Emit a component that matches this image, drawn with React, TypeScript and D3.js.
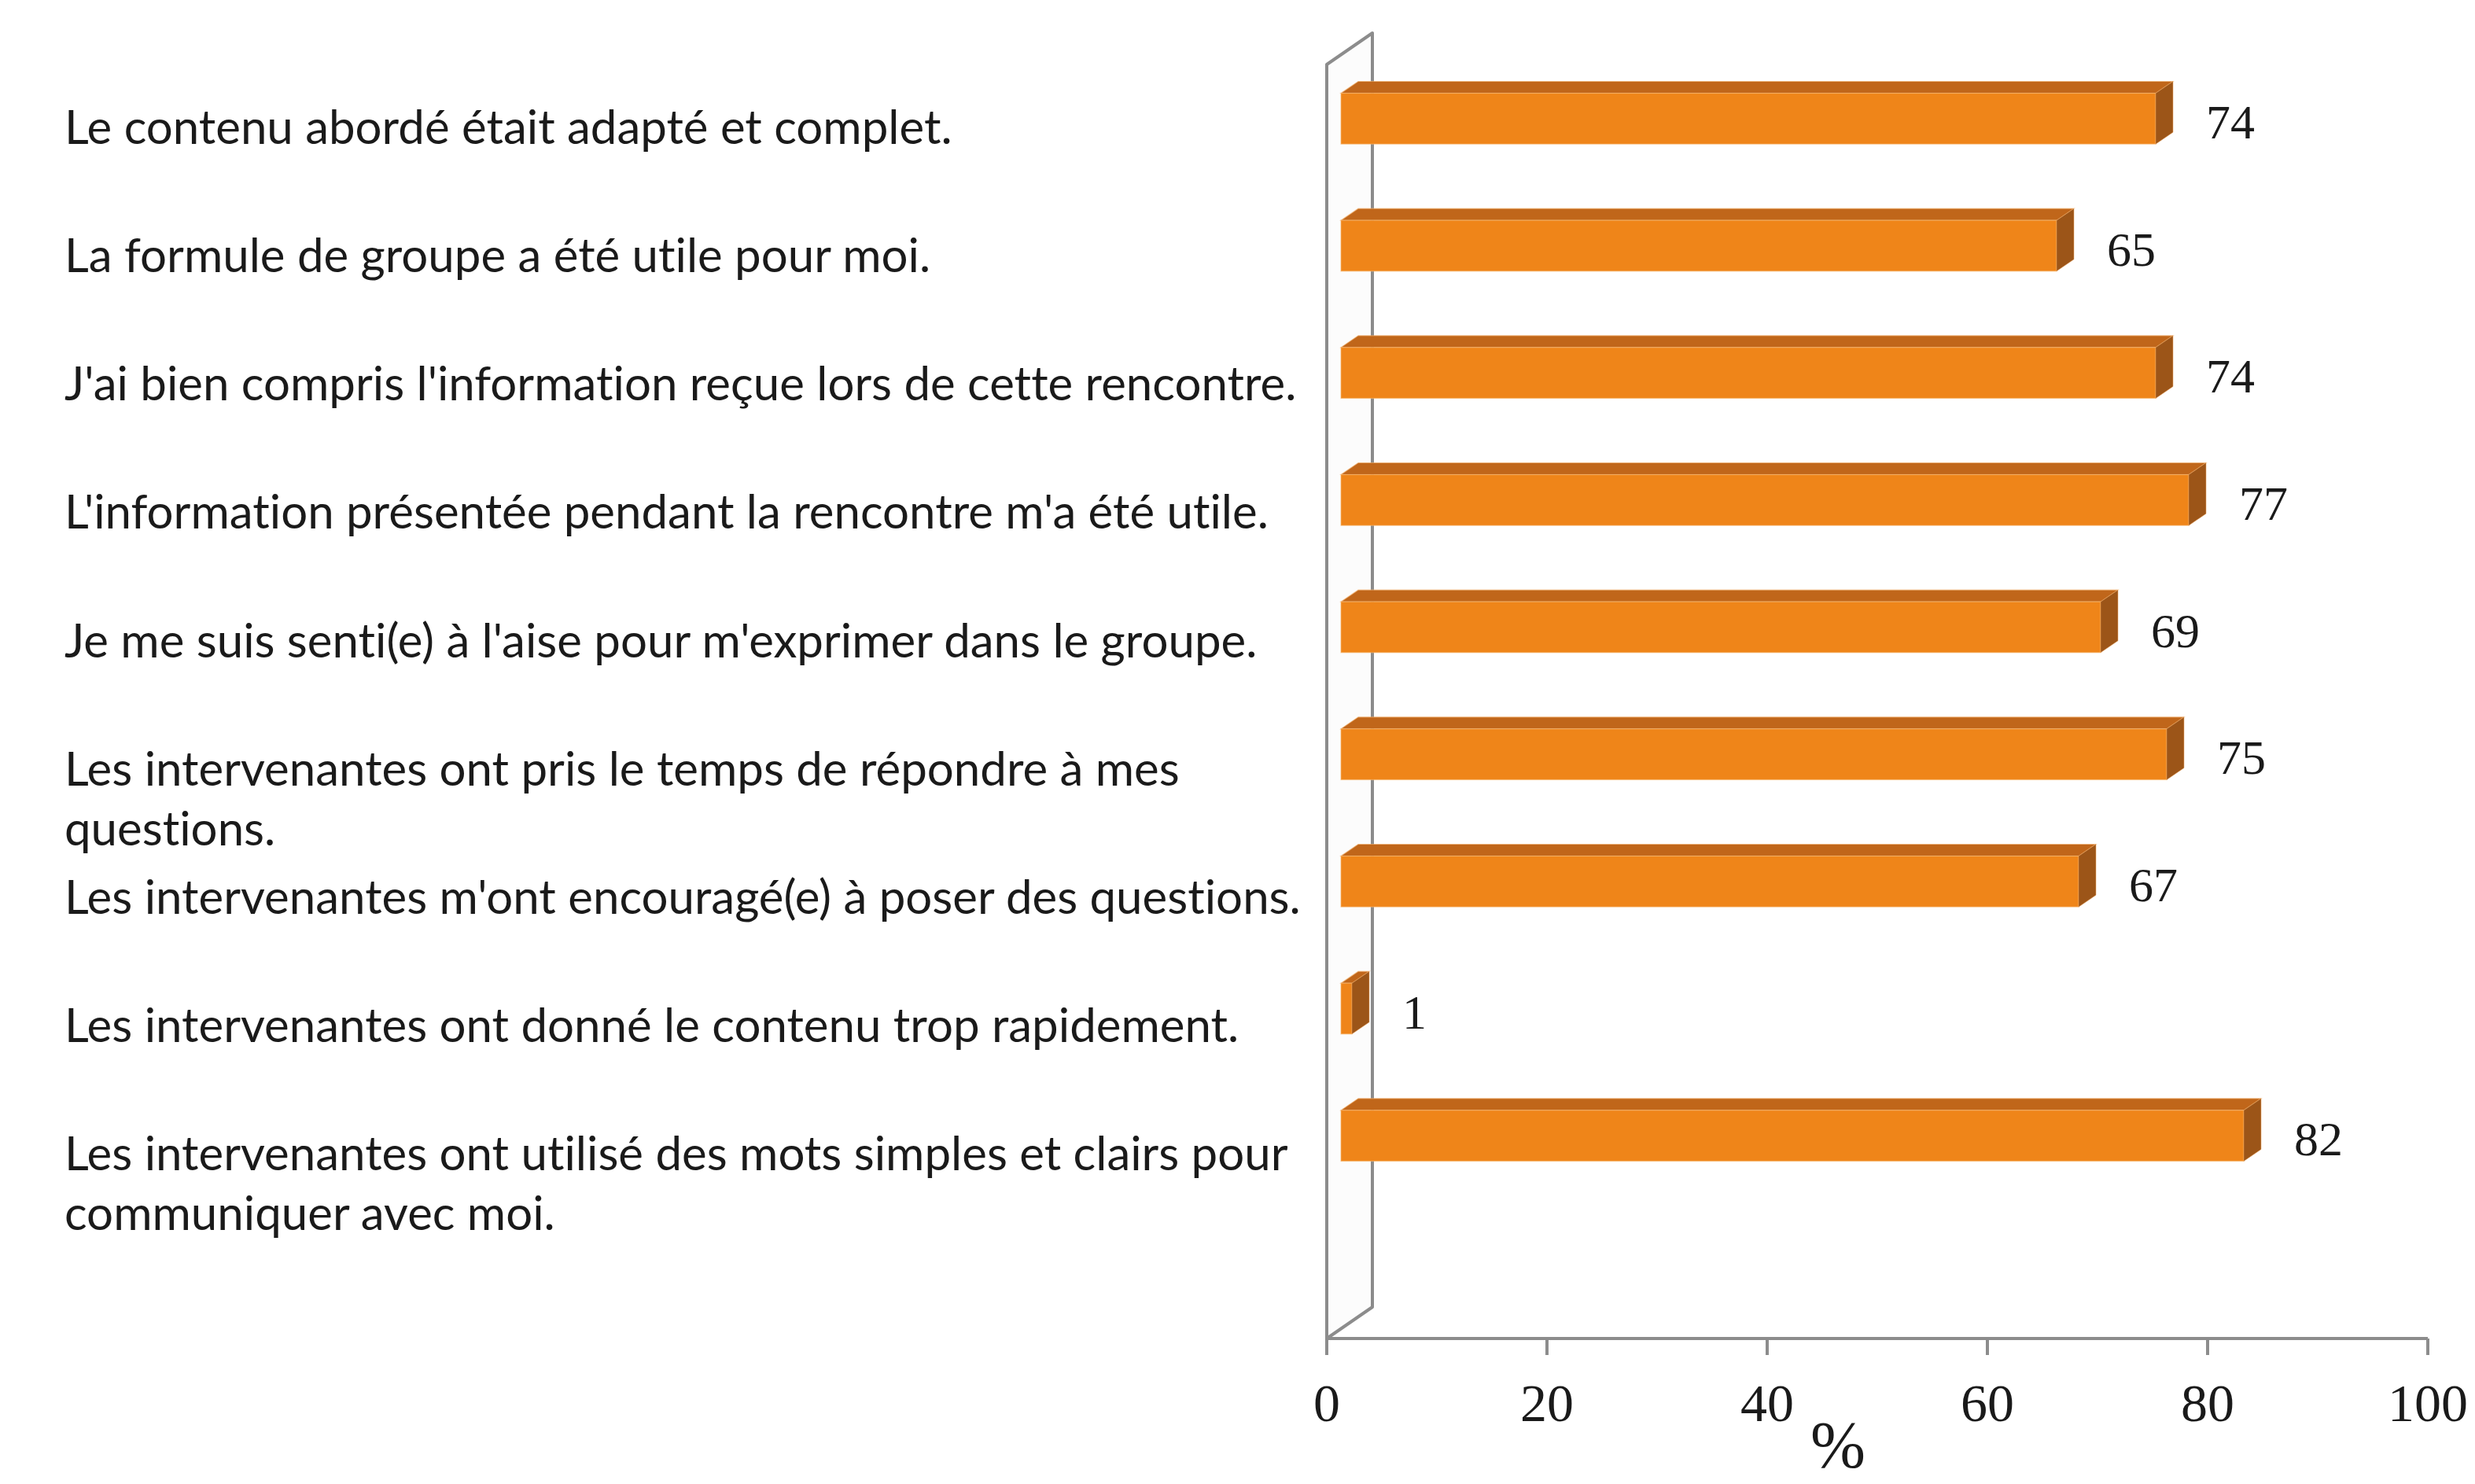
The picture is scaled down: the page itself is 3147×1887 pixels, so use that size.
import React from 'react';
import * as d3 from 'd3';

// statements (one entry per bar, top to bottom); "\n" splits a label onto two lines
const statements = [
  "Le contenu abordé était adapté et complet.",
  "La formule de groupe a été utile pour moi.",
  "J'ai bien compris l'information reçue lors de cette rencontre.",
  "L'information présentée pendant la rencontre m'a été utile.",
  "Je me suis senti(e) à l'aise pour m'exprimer dans le groupe.",
  "Les intervenantes ont pris le temps de répondre à mes\nquestions.",
  "Les intervenantes m'ont encouragé(e) à poser des questions.",
  "Les intervenantes ont donné le contenu trop rapidement.",
  "Les intervenantes ont utilisé des mots simples et clairs pour\ncommuniquer avec moi.",
];
const percents = [74, 65, 74, 77, 69, 75, 67, 1, 82];
const xTicks = [0, 20, 40, 60, 80, 100];

const W = 3147, H = 1887;
const axisY = 1702;
// 3D look: wall depth and bar depth
const wallDx = 58, wallDy = -40;
const barShift = 18, barDx = 22, barDy = -15;

const front = '#ef8519', topC = '#c0661a', sideC = '#9c5518';
const grey = '#8c8c8c';
const serif = "'Liberation Serif', 'Times New Roman', serif";

const App: React.FC = () => {
  const x = d3.scaleLinear().domain([0, 100]).range([1687, 3087]);
  const y = d3.scaleBand<string>().domain(statements).range([70, 1525]).paddingInner(0.6).paddingOuter(0.3);
  const bw = y.bandwidth();

  const x0 = x(0);
  const wall = `M${x0},82 L${x0 + wallDx},${82 + wallDy} L${x0 + wallDx},${axisY + wallDy} L${x0},${axisY} Z`;

  return (
    <svg width={W} height={H} style={{ position: 'absolute', left: 0, top: 0, background: '#fff' }}>
      <path d={wall} fill="#fcfcfc" stroke={grey} strokeWidth={4} strokeLinejoin="round" />

      {statements.map((s, i) => {
        const v = percents[i];
        const y0 = y(s)!;
        const xl = x(0) + barShift;
        const xr = x(v) + barShift;
        const top = `M${xl},${y0} L${xr},${y0} L${xr + barDx},${y0 + barDy} L${xl + barDx},${y0 + barDy} Z`;
        const side = `M${xr},${y0} L${xr + barDx},${y0 + barDy} L${xr + barDx},${y0 + bw + barDy} L${xr},${y0 + bw} Z`;
        const lines = s.split('\n');
        const cy = y0 + bw / 2;
        return (
          <g key={i}>
            <path d={top} fill={topC} stroke="#f3b06a" strokeWidth={1.2} strokeOpacity={0.6} />
            <rect x={xl} y={y0} width={xr - xl} height={bw} fill={front} stroke="#f7b772" strokeWidth={1.2} strokeOpacity={0.6} />
            <path d={side} fill={sideC} stroke="#e7a05a" strokeWidth={1} strokeOpacity={0.5} />
            <text x={xr + barDx + 42} y={cy + 25} fontFamily={serif} fontSize={62} fill="#1a1a1a">
              {v}
            </text>
            <text x={82} y={cy + 32 + i * 1.5} fontFamily="Lato, 'Open Sans', sans-serif" fontSize={60}
              fill="#1a1a1a" style={{ fontVariantLigatures: 'none' }}>
              {lines.map((ln, k) => (
                <tspan key={k} x={82} dy={k === 0 ? 0 : 76}>{ln}</tspan>
              ))}
            </text>
          </g>
        );
      })}

      <line x1={x(0)} x2={x(100)} y1={axisY} y2={axisY} stroke={grey} strokeWidth={4} />
      {xTicks.map((t) => (
        <g key={t}>
          <line x1={x(t)} x2={x(t)} y1={axisY} y2={axisY + 21} stroke={grey} strokeWidth={4} />
          <text x={x(t)} y={1807} textAnchor="middle" fontFamily={serif} fontSize={68} fill="#1a1a1a">
            {t}
          </text>
        </g>
      ))}
      <text x={2337} y={1866} textAnchor="middle" fontFamily={serif} fontSize={84} fill="#1a1a1a">
        %
      </text>
    </svg>
  );
};

export default App;
